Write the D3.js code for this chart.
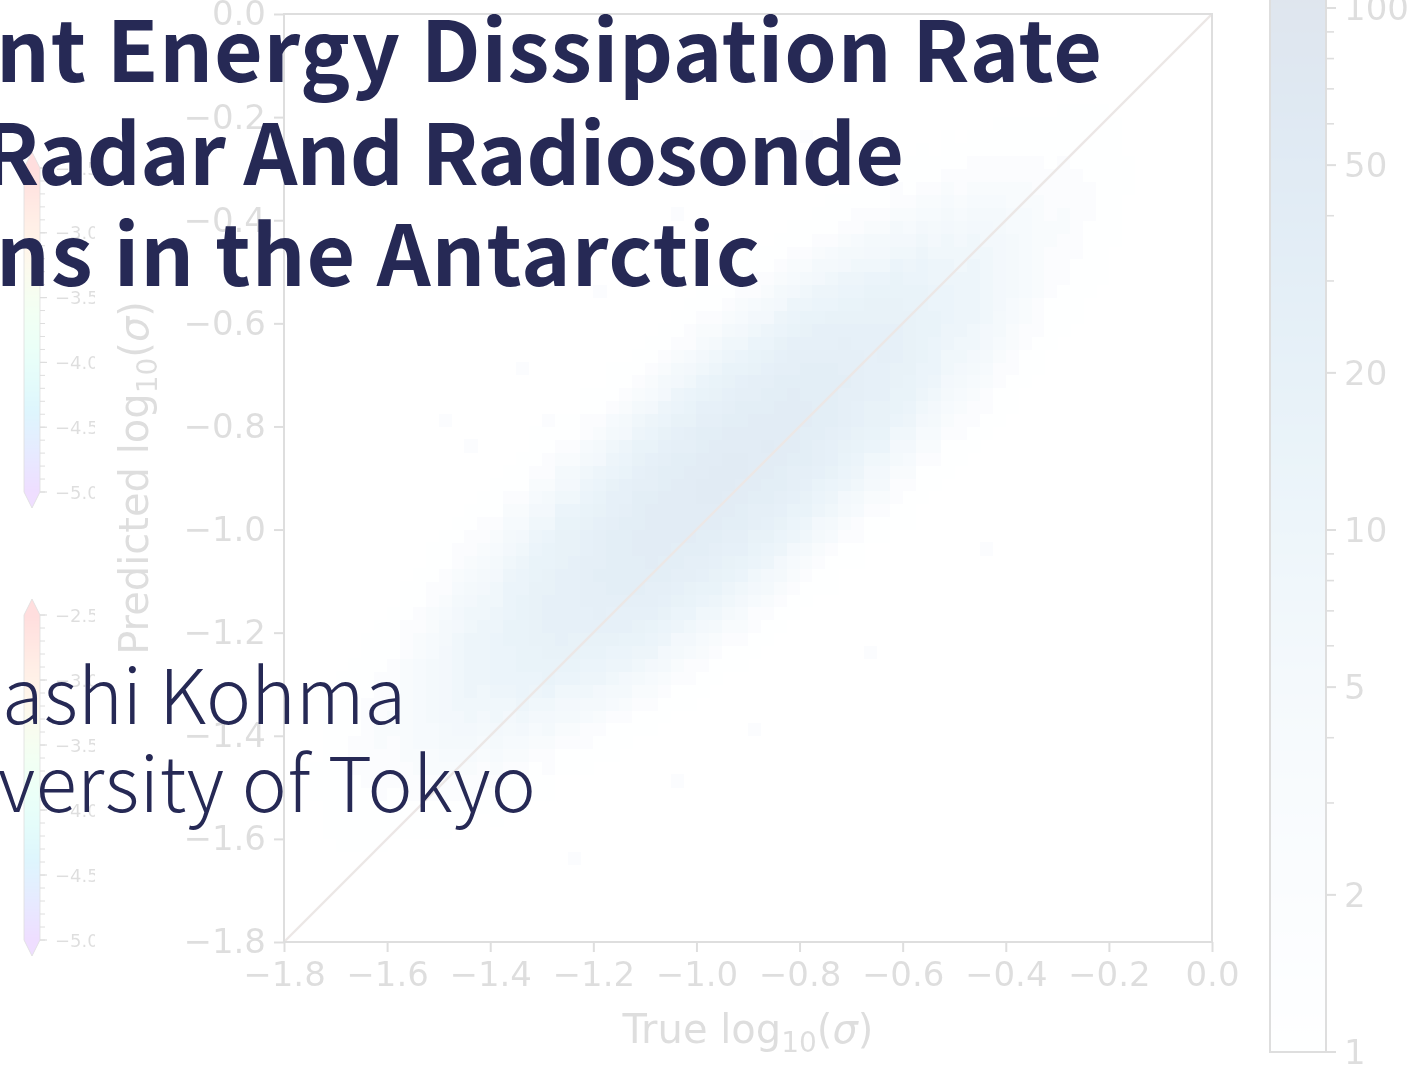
<!DOCTYPE html>
<html>
<head>
<meta charset="utf-8">
<script src="https://cdn.jsdelivr.net/npm/d3@7"></script>
<style>
  html, body { margin: 0; padding: 0; background: #ffffff; overflow: hidden; }
  svg { display: block; }
</style>
</head>
<body>
<svg id="slide" width="1421" height="1066"></svg>
<script>
// ---------------- data ----------------
const X_TICKS = [-1.8, -1.6, -1.4, -1.2, -1.0, -0.8, -0.6, -0.4, -0.2, 0.0];
const Y_TICKS = [-1.8, -1.6, -1.4, -1.2, -1.0, -0.8, -0.6, -0.4, -0.2, 0.0];
const AXIS_DOMAIN = [-1.8, 0.0];
const BIN_WIDTH = 0.025;

const CBAR_TICKS = [1, 2, 5, 10, 20, 50, 100];
const CBAR_MINOR = [3, 4, 6, 7, 8, 9, 30, 40, 60, 70, 80, 90];
const CBAR_MAX = 130;

const SIDE_CBAR_TICKS = [-2.5, -3.0, -3.5, -4.0, -4.5, -5.0];
const SIDE_CBAR_DOMAIN = [-5.0, -2.5];

// count represented by each level character (base-36 digit)
const LEVEL_COUNTS = [0, 1, 2, 3, 4, 5, 6, 8, 10, 12, 15, 18, 22, 27, 33, 40, 48];

// 2-D histogram, one entry per true-value bin (left to right):
// [index of the first filled predicted-value bin counted from -1.8, levels upward]
const HIST_COLUMNS = [
  [0, ""],
  [0, ""],
  [11, "111"],
  [8, "1111111111"],
  [7, "11111111111111"],
  [7, "111111222111111"],
  [7, "11111222222211111"],
  [7, "111122223322221111"],
  [8, "111122223322221111"],
  [8, "11122233333333222111"],
  [8, "111223344444443322111"],
  [8, "11122334455555443322111"],
  [8, "111223455666666554322111"],
  [9, "112234566777777665432211"],
  [9, "1122345677888887765432211"],
  [10, "1122345677888887765432211"],
  [9, "111234567789999887765432111"],
  [11, "112345678999aa999876543211"],
  [10, "11123467899aaaaaa99876432111"],
  [11, "1112346789aabbbbbaa9876432111"],
  [11, "112235679aabbcccbbaa976532211"],
  [13, "11235679abccccccbbba97653211"],
  [13, "11235679abbccccccbba97653211"],
  [13, "112245789abccddddccba987542211"],
  [14, "11235689abcdddedddcba98653211"],
  [14, "111245789bccdeeeeedccb987542111"],
  [15, "11235689accdeeeeeedcca98653211"],
  [16, "1123578abcdeeeffeeedcba8753211"],
  [16, "11234689acddefffffeddca98643211"],
  [17, "11235689bcdeefffffeedcb98653211"],
  [18, "11235689bcdeefffffeedcb98653211"],
  [18, "11224679abddeffffffeddba97642211"],
  [19, "11234679acdeeffggffeedca97643211"],
  [20, "1123578abcdeffgggffedcba8753211"],
  [21, "1123578abcdeffgggffedcba8753211"],
  [21, "11234679acdeeffggffeedca97643211"],
  [22, "11224679abddeffffffeddba97642211"],
  [23, "11235689bcdeeffgffeedcb98653211"],
  [24, "11235689bcdeefffffeedcb98653211"],
  [25, "11234689acddefffffeddca98643211"],
  [26, "1123578abcdeeeffeeedcba8753211"],
  [27, "11235689acddeeeeeedcca98653211"],
  [27, "111245789bccdeeeeedccb987542111"],
  [29, "11235689abcdddedddcba98653211"],
  [29, "112245789abccddddccba987542211"],
  [31, "11235679abbccccccbba97653211"],
  [31, "11235679abbcccdccbba97653211"],
  [32, "112235679aabbcccbbaa976532211"],
  [32, "1112346789aabbbbbaa9876432111"],
  [34, "11123467899aaaaaa99876432111"],
  [35, "112345678999aa998876543211"],
  [36, "111234567788999887765432111"],
  [37, "1122345677888887765432211"],
  [38, "1122345677888887765432211"],
  [39, "112234566777777665432211"],
  [40, "111223455666666554322111"],
  [41, "11122334455555443322111"],
  [43, "111223344444443322111"],
  [44, "11122233333333222111"],
  [46, "111122223322221111"],
  [47, "111122223322221111"],
  [48, "11111222222211111"],
  [50, "111111222111111"],
  [51, "11111111111111"],
  [54, "1111111111"],
  [58, "111"],
  [0, ""],
  [0, ""],
  [0, ""],
  [0, ""],
  [0, ""],
  [0, ""]
];

// isolated sparse bins away from the main band: [true bin, predicted bin, count]
const SPARSE_BINS = [
  [12, 40, 2], [14, 38, 2], [18, 44, 2], [20, 40, 2], [24, 50, 2], [30, 56, 2],
  [40, 62, 2], [22, 6, 2], [30, 12, 2], [36, 16, 2], [45, 22, 2], [54, 30, 2]
];

const X_LABEL = "True log";
const Y_LABEL = "Predicted log";
const TITLE_LINES = ["nt Energy Dissipation Rate", "Radar And Radiosonde", "ns in the Antarctic"];
const AUTHOR_LINES = ["ashi Kohma", "versity of Tokyo"];

// ---------------- drawing ----------------
const svg = d3.select("#slide");
const W = 1421, H = 1066;
svg.append("rect").attr("width", W).attr("height", H).attr("fill", "#ffffff");

const FADE = 0.13;            // the figure sits as a washed-out backdrop
const INK = "#000000";
const FONT = "'DejaVu Sans', sans-serif";
const minus = s => s.replace("-", "\u2212");

const plot = { left: 284, right: 1212, top: 14, bottom: 942 };
const x = d3.scaleLinear().domain(AXIS_DOMAIN).range([plot.left, plot.right]);
const y = d3.scaleLinear().domain(AXIS_DOMAIN).range([plot.bottom, plot.top]);
const color = d3.scaleSequentialLog(d3.interpolateBlues).domain([1, CBAR_MAX]);

const fig = svg.append("g").attr("opacity", FADE);

// heatmap cells
const cells = [];
HIST_COLUMNS.forEach(([start, run], i) => {
  run.split("").forEach((ch, n) => {
    const level = parseInt(ch, 36);
    if (level > 0) cells.push({ i, k: start + n, count: LEVEL_COUNTS[level] });
  });
});
SPARSE_BINS.forEach(([i, k, count]) => cells.push({ i, k, count }));

const binLo = n => AXIS_DOMAIN[0] + n * BIN_WIDTH;
fig.append("g").attr("shape-rendering", "crispEdges")
  .selectAll("rect").data(cells).join("rect")
  .attr("x", d => x(binLo(d.i)))
  .attr("y", d => y(binLo(d.k + 1)))
  .attr("width", d => x(binLo(d.i + 1)) - x(binLo(d.i)) + 0.5)
  .attr("height", d => y(binLo(d.k)) - y(binLo(d.k + 1)) + 0.5)
  .attr("fill", d => color(d.count));

// 1:1 reference line
fig.append("line")
  .attr("x1", x(AXIS_DOMAIN[0])).attr("y1", y(AXIS_DOMAIN[0]))
  .attr("x2", x(AXIS_DOMAIN[1])).attr("y2", y(AXIS_DOMAIN[1]))
  .attr("stroke", "#6b4a40").attr("stroke-width", 2.4);

// frame
fig.append("rect")
  .attr("x", plot.left).attr("y", plot.top)
  .attr("width", plot.right - plot.left).attr("height", plot.bottom - plot.top)
  .attr("fill", "none").attr("stroke", INK).attr("stroke-width", 2);

// axes
const xAxis = d3.axisBottom(x).tickValues(X_TICKS).tickSize(10).tickPadding(10)
  .tickFormat(d => minus(d3.format(".1f")(d)));
const yAxis = d3.axisLeft(y).tickValues(Y_TICKS).tickSize(10).tickPadding(8)
  .tickFormat(d => minus(d3.format(".1f")(d)));

const gx = fig.append("g").attr("transform", `translate(0,${plot.bottom})`).call(xAxis);
const gy = fig.append("g").attr("transform", `translate(${plot.left},0)`).call(yAxis);
[gx, gy].forEach(g => {
  g.select(".domain").remove();
  g.selectAll(".tick line").attr("stroke", INK).attr("stroke-width", 2);
  g.selectAll(".tick text").attr("fill", INK).attr("font-family", FONT).attr("font-size", 34);
});

// axis titles with sub-scripted base and italic sigma
function mathLabel(sel, lead) {
  sel.append("tspan").text(lead);
  sel.append("tspan").attr("font-size", 28).attr("dy", 9).text("10");
  sel.append("tspan").attr("dy", -9).text("(");
  sel.append("tspan").attr("font-style", "italic").text("\u03c3");
  sel.append("tspan").text(")");
}
const xl = fig.append("text")
  .attr("x", (plot.left + plot.right) / 2).attr("y", 1043)
  .attr("text-anchor", "middle").attr("font-family", FONT).attr("font-size", 40).attr("fill", INK);
mathLabel(xl, X_LABEL);
const yl = fig.append("text")
  .attr("transform", `translate(148,${(plot.top + plot.bottom) / 2}) rotate(-90)`)
  .attr("text-anchor", "middle").attr("font-family", FONT).attr("font-size", 40).attr("fill", INK);
mathLabel(yl, Y_LABEL);

// ---- colour bar for the counts ----
const cb = { left: 1270, right: 1326 };
const cbY = d3.scaleLog().domain([1, 100]).range([1052, 8]);
const defs = svg.append("defs");
const grad = defs.append("linearGradient").attr("id", "countsGrad")
  .attr("gradientUnits", "userSpaceOnUse")
  .attr("x1", 0).attr("x2", 0).attr("y1", cbY(1)).attr("y2", cbY(CBAR_MAX));
d3.range(0, 1.0001, 0.05).forEach(t => {
  grad.append("stop").attr("offset", t)
    .attr("stop-color", color(Math.pow(CBAR_MAX, t)));
});
fig.append("rect")
  .attr("x", cb.left).attr("y", cbY(CBAR_MAX))
  .attr("width", cb.right - cb.left).attr("height", cbY(1) - cbY(CBAR_MAX))
  .attr("fill", "url(#countsGrad)").attr("stroke", INK).attr("stroke-width", 2);
const cbAxis = fig.append("g");
cbAxis.selectAll("line.minor").data(CBAR_MINOR).join("line").attr("class", "minor")
  .attr("x1", cb.right).attr("x2", cb.right + 8)
  .attr("y1", d => cbY(d)).attr("y2", d => cbY(d))
  .attr("stroke", INK).attr("stroke-width", 1.6);
cbAxis.selectAll("line.major").data(CBAR_TICKS).join("line").attr("class", "major")
  .attr("x1", cb.right).attr("x2", cb.right + 10)
  .attr("y1", d => cbY(d)).attr("y2", d => cbY(d))
  .attr("stroke", INK).attr("stroke-width", 2);
cbAxis.selectAll("text").data(CBAR_TICKS).join("text")
  .attr("x", cb.right + 18).attr("y", d => cbY(d))
  .attr("dominant-baseline", "central")
  .attr("font-family", FONT).attr("font-size", 34).attr("fill", INK)
  .text(d => d);

// ---- two small rainbow colour bars at the left edge ----
function rainbow(t) {
  const r = Math.min(1, Math.abs(2 * t - 0.5));
  const g = Math.sin(Math.PI * t);
  const b = Math.cos(Math.PI * t / 2);
  return d3.rgb(r * 255, g * 255, b * 255).formatHex();
}
const rg = defs.append("linearGradient").attr("id", "rainbowGrad")
  .attr("x1", 0).attr("x2", 0).attr("y1", 1).attr("y2", 0);
d3.range(0, 1.0001, 0.05).forEach(t => rg.append("stop").attr("offset", t).attr("stop-color", rainbow(t)));
defs.append("clipPath").attr("id", "sideClip")
  .append("rect").attr("x", 0).attr("y", 0).attr("width", 95).attr("height", H);

const side = fig.append("g").attr("clip-path", "url(#sideClip)");
function sideColorbar(yTop, yBottom) {
  const s = d3.scaleLinear().domain(SIDE_CBAR_DOMAIN).range([yBottom, yTop]);
  const bx0 = 24, bx1 = 40, ext = 16, mid = (bx0 + bx1) / 2;
  const top = s(SIDE_CBAR_DOMAIN[1]), bot = s(SIDE_CBAR_DOMAIN[0]);
  const g = side.append("g");
  g.append("rect").attr("x", bx0).attr("y", top)
    .attr("width", bx1 - bx0).attr("height", bot - top)
    .attr("fill", "url(#rainbowGrad)");
  g.append("path").attr("d", `M${bx0},${top} L${mid},${top - ext} L${bx1},${top} Z`).attr("fill", rainbow(1));
  g.append("path").attr("d", `M${bx0},${bot} L${mid},${bot + ext} L${bx1},${bot} Z`).attr("fill", rainbow(0));
  g.append("path")
    .attr("d", `M${bx0},${top} L${mid},${top - ext} L${bx1},${top} L${bx1},${bot} L${mid},${bot + ext} L${bx0},${bot} Z`)
    .attr("fill", "none").attr("stroke", INK).attr("stroke-width", 0.8);
  const minorVals = d3.range(-50, -24).map(k => k / 10);
  g.selectAll("line.mn").data(minorVals).join("line").attr("class", "mn")
    .attr("x1", bx1).attr("x2", bx1 + 5)
    .attr("y1", d => s(d)).attr("y2", d => s(d))
    .attr("stroke", INK).attr("stroke-width", 1);
  g.selectAll("line.mj").data(SIDE_CBAR_TICKS).join("line").attr("class", "mj")
    .attr("x1", bx1).attr("x2", bx1 + 7)
    .attr("y1", d => s(d)).attr("y2", d => s(d))
    .attr("stroke", INK).attr("stroke-width", 1.2);
  g.selectAll("text").data(SIDE_CBAR_TICKS).join("text")
    .attr("x", 55).attr("y", d => s(d))
    .attr("dominant-baseline", "central")
    .attr("font-family", FONT).attr("font-size", 18).attr("fill", INK)
    .text(d => minus(d3.format(".1f")(d)));
}
sideColorbar(168, 492);
sideColorbar(615, 940);

// ---- slide text ----
const NAVY = "#262955";
const TFONT = "'Noto Sans CJK JP', 'Noto Sans', sans-serif";
const title = svg.append("g").attr("font-family", TFONT).attr("fill", NAVY)
  .attr("font-weight", 700).attr("font-size", 84);
const titleLayout = [[-4, 82, 1106], [-18, 185, 922], [-4, 286, 764]];
TITLE_LINES.forEach((t, k) => {
  title.append("text")
    .attr("x", titleLayout[k][0]).attr("y", titleLayout[k][1])
    .attr("textLength", titleLayout[k][2]).attr("lengthAdjust", "spacing")
    .text(t);
});
const authors = svg.append("g").attr("font-family", TFONT).attr("fill", NAVY)
  .attr("font-weight", 300).attr("font-size", 76);
const authorLayout = [[2, 724, 404], [-2, 812, 538]];
AUTHOR_LINES.forEach((t, k) => {
  authors.append("text")
    .attr("x", authorLayout[k][0]).attr("y", authorLayout[k][1])
    .attr("textLength", authorLayout[k][2]).attr("lengthAdjust", "spacing")
    .text(t);
});
</script>
</body>
</html>
